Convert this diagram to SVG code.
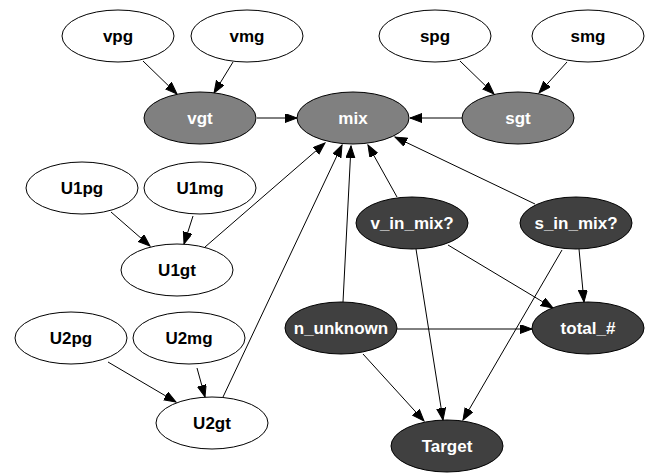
<svg xmlns="http://www.w3.org/2000/svg" width="651" height="476" viewBox="0 0 651 476">
  <style>
    .node ellipse { stroke: #000; stroke-width: 1; }
    .plain ellipse { fill: #fff; }
    .mid ellipse { fill: #808080; }
    .dark ellipse { fill: #404040; }
    .node text { font-family: "Liberation Sans", Arial, sans-serif; font-weight: bold; font-size: 17px; text-anchor: middle; }
    .plain text { fill: #000; }
    .mid text, .dark text { fill: #fff; }
    .edges line { stroke: #000; stroke-width: 1; marker-end: url(#arrow); }
  </style>
  <defs>
    <marker id="arrow" markerUnits="userSpaceOnUse" markerWidth="13" markerHeight="10" refX="12" refY="4.5" orient="auto">
      <path d="M0,0 L12,4.5 L0,9 z" fill="#000" stroke="#000" stroke-width="1"/>
    </marker>
  </defs>
  <rect width="651" height="476" fill="#fff"/>

  <g class="edges">
    <line x1="143" y1="61" x2="177" y2="94"/>
    <line x1="233" y1="62" x2="214" y2="93"/>
    <line x1="257" y1="118" x2="297" y2="118"/>
    <line x1="460" y1="61" x2="494" y2="94"/>
    <line x1="567" y1="62" x2="539" y2="93"/>
    <line x1="462" y1="118" x2="410" y2="118"/>
    <line x1="111" y1="212" x2="150" y2="246"/>
    <line x1="193" y1="216" x2="184" y2="244"/>
    <line x1="205" y1="247" x2="325" y2="143"/>
    <line x1="108" y1="362" x2="176" y2="402"/>
    <line x1="197" y1="368" x2="205" y2="397"/>
    <line x1="223" y1="397" x2="342" y2="145"/>
    <line x1="343" y1="302" x2="351" y2="146"/>
    <line x1="397" y1="197" x2="368" y2="145"/>
    <line x1="535" y1="204" x2="395" y2="137"/>
    <line x1="448" y1="245" x2="553" y2="308"/>
    <line x1="579" y1="249" x2="584" y2="302"/>
    <line x1="416" y1="249" x2="443" y2="420"/>
    <line x1="562" y1="250" x2="463" y2="420"/>
    <line x1="397" y1="329" x2="532" y2="329"/>
    <line x1="363" y1="354" x2="424" y2="421"/>
  </g>

  <g id="vpg" class="node plain"><ellipse cx="118" cy="36" rx="56" ry="26"/><text x="118" y="42">vpg</text></g>
  <g id="vmg" class="node plain"><ellipse cx="247" cy="36" rx="56" ry="26"/><text x="247" y="42">vmg</text></g>
  <g id="spg" class="node plain"><ellipse cx="435" cy="36" rx="56" ry="26"/><text x="435" y="42">spg</text></g>
  <g id="smg" class="node plain"><ellipse cx="588" cy="36" rx="56" ry="26"/><text x="588" y="42">smg</text></g>
  <g id="vgt" class="node mid"><ellipse cx="200" cy="118" rx="56" ry="26"/><text x="200" y="124">vgt</text></g>
  <g id="mix" class="node mid"><ellipse cx="353" cy="118" rx="56" ry="26"/><text x="353" y="124">mix</text></g>
  <g id="sgt" class="node mid"><ellipse cx="518" cy="118" rx="56" ry="26"/><text x="518" y="124">sgt</text></g>
  <g id="U1pg" class="node plain"><ellipse cx="82" cy="188" rx="56" ry="26"/><text x="82" y="194">U1pg</text></g>
  <g id="U1mg" class="node plain"><ellipse cx="200" cy="188" rx="56" ry="26"/><text x="200" y="194">U1mg</text></g>
  <g id="U1gt" class="node plain"><ellipse cx="177" cy="270" rx="56" ry="26"/><text x="177" y="276">U1gt</text></g>
  <g id="v_in_mix" class="node dark"><ellipse cx="412" cy="223" rx="56" ry="26"/><text x="412" y="229">v_in_mix?</text></g>
  <g id="s_in_mix" class="node dark"><ellipse cx="576" cy="223" rx="56" ry="26"/><text x="576" y="229">s_in_mix?</text></g>
  <g id="U2pg" class="node plain"><ellipse cx="71" cy="338" rx="56" ry="26"/><text x="71" y="344">U2pg</text></g>
  <g id="U2mg" class="node plain"><ellipse cx="189" cy="338" rx="56" ry="26"/><text x="189" y="344">U2mg</text></g>
  <g id="U2gt" class="node plain"><ellipse cx="212" cy="423" rx="56" ry="26"/><text x="212" y="429">U2gt</text></g>
  <g id="n_unknown" class="node dark"><ellipse cx="341" cy="328" rx="56" ry="26"/><text x="341" y="334">n_unknown</text></g>
  <g id="total" class="node dark"><ellipse cx="588" cy="328" rx="56" ry="26"/><text x="588" y="334">total_#</text></g>
  <g id="Target" class="node dark"><ellipse cx="447" cy="446" rx="56" ry="26"/><text x="447" y="452">Target</text></g>
</svg>
